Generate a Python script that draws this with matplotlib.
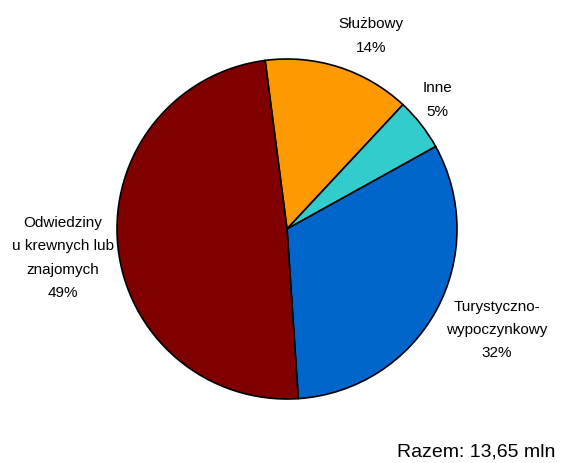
import matplotlib
matplotlib.use("Agg")
import matplotlib.pyplot as plt

categories = ["Służbowy", "Inne", "Turystyczno-\nwypoczynkowy", "Odwiedziny\nu krewnych lub\nznajomych"]
values = [14, 5, 32, 49]
colors = ["#FF9900", "#33CCCC", "#0066CC", "#800000"]

plt.rcParams['font.family'] = ['Liberation Sans Narrow', 'Liberation Sans', 'DejaVu Sans']

W, H = 561, 464
fig = plt.figure(figsize=(W/100, H/100), dpi=100)
cx, cy, r = 287, 230, 170
ax = fig.add_axes([(cx - r)/W, (H - cy - r)/H, 2*r/W, 2*r/H])
ax.pie(values, colors=colors, startangle=97.4, counterclock=False, radius=1,
       wedgeprops=dict(edgecolor="black", linewidth=1.2))
ax.set_xlim(-1, 1)
ax.set_ylim(-1, 1)
ax.set_aspect('equal')
ax.axis('off')

label_pos = [(371, 36), (437, 100), (497, 330), (63, 258)]
for cat, v, (px, py) in zip(categories, values, label_pos):
    ax.text((px - cx)/r, (cy - py)/r, f"{cat}\n{v}%", ha="center", va="center",
            fontsize=11, linespacing=1.85, clip_on=False)

fig.text(555/W, 1 - 452/H, "Razem: 13,65 mln", ha="right", va="center", fontsize=14)
fig.savefig("out.png", dpi=100)
